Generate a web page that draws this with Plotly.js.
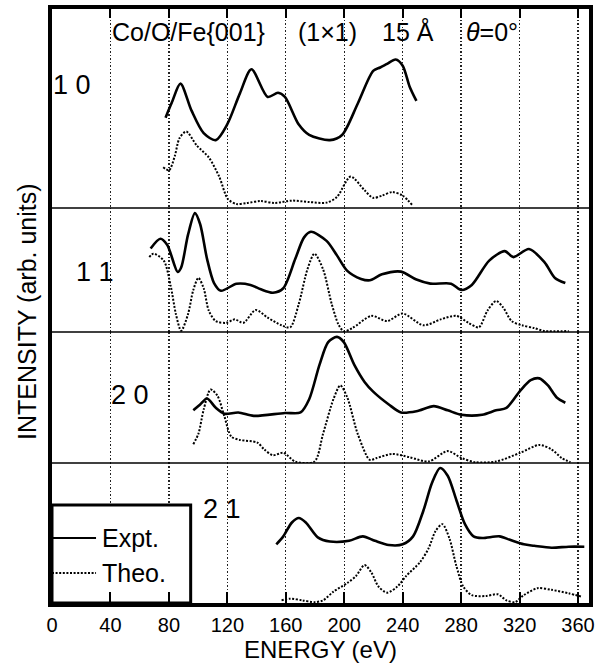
<!DOCTYPE html>
<html>
<head>
<meta charset="utf-8">
<script src="https://cdn.plot.ly/plotly-3.0.1.min.js"></script>
<style>html,body{margin:0;padding:0;background:#fff;}#chart{width:603px;height:670px;}</style>
</head>
<body>
<div id="chart"></div>
<script>
// ---- data (energy in eV, intensity in arbitrary units per panel) ----
const energyTicks = [0, 40, 80, 120, 160, 200, 240, 280, 320, 360];
const panelLabels = ["1 0", "1 1", "2 0", "2 1"];
const seriesNames = ["Expt.", "Theo."];

const p10ExptE = [77.7, 82, 87.9, 95.5, 103.8, 112.1, 119.9, 128.6, 136.5, 147.6, 154.7, 159.4, 168.9, 176, 190.2, 198.5, 209.2, 219.8, 224.6, 229.3, 235.2, 240, 244.7, 249.4];
const p10ExptI = [45.4, 53, 62.5, 48.9, 37.6, 34.1, 42, 57.6, 69.7, 55.8, 57.9, 55.8, 41.9, 36.7, 34.1, 36.7, 52.4, 68.9, 70.6, 72.4, 74.6, 71.5, 61.1, 53.8];
const p10TheoE = [76.1, 80.1, 84, 87.2, 91.9, 99, 107.3, 114.4, 120.4, 126.3, 133.4, 142.9, 152.3, 164.2, 176, 187.9, 195, 204.4, 213.9, 219.8, 225.8, 232.9, 240, 247.1];
const p10TheoI = [20.5, 19, 26, 35, 38.4, 31.5, 25.4, 15.8, 4.5, 2, 2.5, 3.5, 2.5, 3.7, 3, 2.7, 5.5, 15.8, 8.9, 5.1, 6.2, 8, 6.2, 1];

const p11ExptE = [67.5, 74.2, 78.9, 86, 88.4, 93.1, 97.8, 101.4, 106.1, 110.9, 115.6, 126.3, 135.8, 142.9, 151.2, 158.3, 166.5, 172.5, 177.2, 187.9, 195, 202.1, 211.5, 217.5, 225.8, 238.8, 249.4, 258.9, 273.1, 280.2, 287.3, 299.2, 309.8, 315.8, 326.4, 337.1, 344.2, 351.3];
const p11ExptI = [67.4, 75.2, 70.2, 48.4, 52, 78.5, 95.9, 86.9, 59, 39.5, 33.3, 38.9, 38, 34.4, 31.7, 35.3, 59, 76.3, 80.8, 73.5, 61.8, 49.3, 42.8, 41.7, 46.5, 48.7, 42.3, 39, 39, 33.9, 38, 57.6, 65.2, 60.4, 66.9, 56.2, 43.6, 39.5];
const p11TheoE = [66.6, 69.4, 76.5, 81.3, 84.8, 88.4, 93.1, 96.7, 100.2, 103.8, 107.3, 112.1, 119.2, 125.1, 131, 139.3, 147.6, 157.1, 163, 168.9, 174.8, 179.6, 185.5, 191.4, 196.1, 199.7, 205.6, 218.6, 229.3, 240, 254.2, 266, 276.7, 285, 292.1, 298, 303.9, 308.7, 314.6, 321.7, 330, 337.1, 353.6];
const p11TheoI = [60.4, 63.2, 57.6, 36.7, 14.4, 1, 14.4, 33.9, 43.6, 35.3, 17.2, 8.8, 7.4, 10.2, 7.4, 17.7, 11.6, 5.4, 3.8, 22.7, 50.6, 63.2, 50.6, 22.7, 6, 0.6, 3.2, 13, 8.8, 14.9, 5.4, 10.2, 13, 7.4, 3.8, 17.2, 25, 19.9, 8.8, 5.4, 3.2, 0.8, 0.8];

const p20ExptE = [96.7, 101.4, 106.1, 112.1, 118, 127.5, 138.1, 159.4, 170.1, 176, 183.1, 189, 195, 199.7, 206.8, 213.9, 219.8, 230.5, 238.8, 249.4, 261.3, 270.8, 280.2, 294.4, 303.9, 311, 320.5, 327.6, 333.5, 339.4, 345.4, 351.3];
const p20ExptI = [40.2, 44.7, 49.2, 42.1, 37.6, 38.6, 36, 38.2, 38.6, 48.7, 75.1, 92.3, 96.3, 92.3, 75.1, 61.9, 54.5, 44.7, 38.6, 39.5, 43.4, 40.2, 36.8, 36.8, 40.2, 42.1, 55.3, 63.2, 64.6, 59.2, 50, 46];
const p20TheoE = [96.7, 100.2, 103.8, 108.5, 113.2, 118, 122.7, 128.6, 140.5, 145.2, 151.2, 158.3, 166.5, 179.6, 185.5, 192.6, 197.3, 202.1, 209.2, 217.5, 222.2, 232.9, 244.7, 257.7, 270.8, 280.2, 289.7, 303.9, 320.5, 333.5, 341.8, 348.9, 354.8];
const p20TheoI = [14.4, 22.3, 40.8, 56.1, 51.4, 35.5, 20.2, 17.6, 15.6, 10.4, 5.9, 7.8, 1.1, 1.1, 22.3, 48.7, 59.2, 50, 22.3, 2.4, 3.8, 6.9, 4.4, 1.1, 9.1, 3.8, 0.6, 1.1, 7.8, 13.8, 10.4, 3.8, 0.6];

const p21ExptE = [153.5, 158.3, 164.2, 168.9, 173.7, 181.9, 190.2, 203.3, 212.7, 221, 230.5, 240, 247.1, 254.2, 260.1, 265.6, 270.8, 276.7, 282.6, 288.5, 294.4, 306.3, 313.4, 322.9, 330, 341.8, 353.6, 364.3];
const p21ExptI = [41.9, 47.6, 57.5, 60.7, 57.5, 46.9, 43.9, 44.4, 47.6, 44.4, 41.4, 41.9, 47.6, 66.1, 85.9, 96.4, 90.9, 73.6, 56.3, 47.6, 46.4, 47.6, 45.1, 41.9, 40.9, 39.5, 40.2, 40.2];
const p21TheoE = [157.1, 163, 171.3, 179.6, 185.5, 192.6, 202.1, 208, 213.9, 218.6, 223.4, 229.3, 236.4, 242.3, 251.8, 257.7, 262.5, 267.2, 271.9, 276.7, 281.4, 287.3, 296.8, 305.1, 311, 316.9, 322.9, 332.3, 341.8, 353.6, 363.1];
const p21TheoI = [1.9, 3.1, 1.9, 0.6, 1.9, 8.1, 14.3, 19.2, 27.1, 21.7, 11.8, 7.4, 11.8, 19.2, 29.1, 39, 51.4, 56.3, 46.4, 26.6, 11.8, 5.6, 5, 6.2, 1.9, 0.6, 5.6, 10.6, 9.4, 6.9, 4.4];

// ---- build ----
const FONT = '"Liberation Sans", Arial, Helvetica, sans-serif';
const panels = [
  {ya: 'y',  ex: p10ExptE, ei: p10ExptI, tx: p10TheoE, ti: p10TheoI},
  {ya: 'y2', ex: p11ExptE, ei: p11ExptI, tx: p11TheoE, ti: p11TheoI},
  {ya: 'y3', ex: p20ExptE, ei: p20ExptI, tx: p20TheoE, ti: p20TheoI},
  {ya: 'y4', ex: p21ExptE, ei: p21ExptI, tx: p21TheoE, ti: p21TheoI}
];
const traces = [];
panels.forEach((p, k) => {
  traces.push({x: p.ex, y: p.ei, xaxis: 'x', yaxis: p.ya, type: 'scatter', mode: 'lines',
    name: seriesNames[0] + ' ' + panelLabels[k], showlegend: false, hoverinfo: 'skip',
    line: {color: '#000', width: 2.6, shape: 'spline', smoothing: 0.8}});
  traces.push({x: p.tx, y: p.ti, xaxis: 'x', yaxis: p.ya, type: 'scatter', mode: 'lines',
    name: seriesNames[1] + ' ' + panelLabels[k], showlegend: false, hoverinfo: 'skip',
    line: {color: '#000', width: 2, dash: '2px,1.6px', shape: 'spline', smoothing: 0.8}});
});
// carrier for the mirrored top energy axis (no visible marks)
traces.push({x: [null], y: [null], xaxis: 'x2', yaxis: 'y', type: 'scatter', mode: 'lines',
  showlegend: false, hoverinfo: 'skip', line: {width: 0}});

const xRange = [0, 367.5];
const bounds = [0, 0.2357, 0.4562, 0.665, 1];
function yax(i) {
  return {domain: [bounds[i], bounds[i + 1]], range: [0, 100], anchor: 'x',
    showticklabels: false, ticks: '', showgrid: false, zeroline: false,
    showline: true, linewidth: 4, linecolor: '#000', mirror: true, fixedrange: true};
}

const layout = {
  width: 603, height: 670,
  margin: {l: 52, r: 14, t: 9, b: 67},
  paper_bgcolor: '#fff', plot_bgcolor: '#fff',
  font: {family: FONT, color: '#000'},
  showlegend: false,
  xaxis: {range: xRange, anchor: 'y4', domain: [0, 1],
    tickvals: energyTicks, ticktext: energyTicks.map(String),
    ticks: 'inside', ticklen: 11, tickwidth: 2, tickcolor: '#000',
    tickfont: {size: 20, family: FONT}, ticklabelstandoff: 1,
    showgrid: true, gridcolor: '#222', gridwidth: 1.3, griddash: '1.5px,2px',
    zeroline: false, showline: true, linewidth: 4, linecolor: '#000', layer: 'above traces',
    title: {text: 'ENERGY (eV)', font: {size: 24, family: FONT}, standoff: 0}},
  xaxis2: {range: xRange, overlaying: 'x', anchor: 'y', side: 'top',
    tickvals: energyTicks, ticks: 'inside', ticklen: 9, tickwidth: 2, tickcolor: '#000',
    showticklabels: false, showgrid: false, zeroline: false,
    showline: true, linewidth: 4, linecolor: '#000'},
  yaxis: yax(3),
  yaxis2: yax(2),
  yaxis3: yax(1),
  yaxis4: yax(0),
  shapes: [
    {type: 'line', xref: 'paper', yref: 'paper', x0: 0, x1: 1, y0: bounds[1], y1: bounds[1], line: {color: '#000', width: 1.5}},
    {type: 'line', xref: 'paper', yref: 'paper', x0: 0, x1: 1, y0: bounds[2], y1: bounds[2], line: {color: '#000', width: 1.5}},
    {type: 'line', xref: 'paper', yref: 'paper', x0: 0, x1: 1, y0: bounds[3], y1: bounds[3], line: {color: '#000', width: 1.5}},
    {type: 'rect', xref: 'x', yref: 'y4', x0: 0, x1: 94.9, y0: 0, y1: 70,
      fillcolor: '#fff', line: {color: '#000', width: 3}, layer: 'between'},
    {type: 'line', xref: 'paper', yref: 'paper', x0: 0, x1: 0.082, y0: 0.1094, y1: 0.1094, line: {color: '#000', width: 2.2}},
    {type: 'line', xref: 'paper', yref: 'paper', x0: 0, x1: 0.082, y0: 0.0505, y1: 0.0505, line: {color: '#000', width: 2, dash: '2px,1.6px'}}
  ],
  annotations: [
    {text: 'INTENSITY (arb. units)', xref: 'paper', yref: 'paper', x: -0.0466, y: 0.4916, textangle: -90,
      xanchor: 'center', yanchor: 'middle', showarrow: false, font: {size: 25, family: FONT}},
    {text: 'Co/O/Fe{001}', xref: 'paper', yref: 'paper', x: 0.2546, y: 0.9613, showarrow: false, xanchor: 'center', yanchor: 'middle', font: {size: 25, family: FONT}},
    {text: '(1×1)', xref: 'paper', yref: 'paper', x: 0.513, y: 0.9613, showarrow: false, xanchor: 'center', yanchor: 'middle', font: {size: 25, family: FONT}},
    {text: '15 Å', xref: 'paper', yref: 'paper', x: 0.663, y: 0.9613, showarrow: false, xanchor: 'center', yanchor: 'middle', font: {size: 25, family: FONT}},
    {text: '<i>θ</i>=0°', xref: 'paper', yref: 'paper', x: 0.820, y: 0.9613, showarrow: false, xanchor: 'center', yanchor: 'middle', font: {size: 25, family: FONT}},
    {text: panelLabels[0], xref: 'paper', yref: 'paper', x: 0.038, y: 0.8724, showarrow: false, xanchor: 'center', yanchor: 'middle', font: {size: 27, family: FONT}},
    {text: panelLabels[1], xref: 'paper', yref: 'paper', x: 0.0793, y: 0.5576, showarrow: false, xanchor: 'center', yanchor: 'middle', font: {size: 27, family: FONT}},
    {text: panelLabels[2], xref: 'paper', yref: 'paper', x: 0.1453, y: 0.3495, showarrow: false, xanchor: 'center', yanchor: 'middle', font: {size: 27, family: FONT}},
    {text: panelLabels[3], xref: 'paper', yref: 'paper', x: 0.316, y: 0.158, showarrow: false, xanchor: 'center', yanchor: 'middle', font: {size: 27, family: FONT}},
    {text: seriesNames[0], xref: 'paper', yref: 'paper', x: 0.0894, y: 0.1094, showarrow: false, xanchor: 'left', yanchor: 'middle', font: {size: 25, family: FONT}},
    {text: seriesNames[1], xref: 'paper', yref: 'paper', x: 0.0894, y: 0.0505, showarrow: false, xanchor: 'left', yanchor: 'middle', font: {size: 25, family: FONT}}
  ]
};

Plotly.newPlot('chart', traces, layout, {staticPlot: true, displayModeBar: false});
</script>
</body>
</html>
